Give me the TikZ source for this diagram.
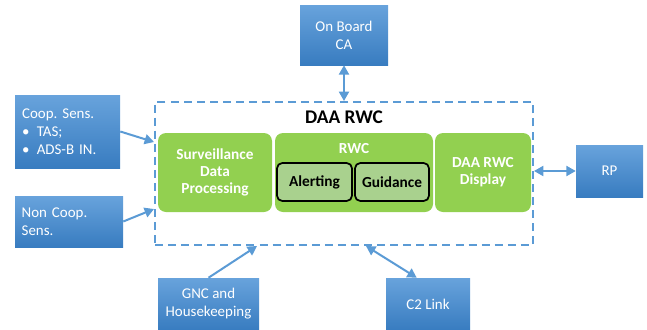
\documentclass[tikz,border=0pt]{standalone}
\usepackage{fontspec}
\setmainfont{Carlito}
\usetikzlibrary{arrows.meta,calc}

\definecolor{sensTop}{RGB}{104,163,220}
\definecolor{sensBot}{RGB}{56,124,192}
\definecolor{linkBlue}{RGB}{91,155,213}
\definecolor{funcGreen}{RGB}{146,208,80}
\definecolor{subGreen}{RGB}{169,209,142}

\begin{document}
\begin{tikzpicture}[x=0.75pt,y=-0.75pt,
  sensor/.style={
      draw=none,
      inner sep=0pt,
      top color=sensTop,
      bottom color=sensBot,
      text=white,
      align=center,
      font=\fontsize{11.2}{13.5}\selectfont
    },
  functext/.style={
      inner sep=0pt,
      text=white,
      align=center,
      font=\fontsize{11.5}{13}\selectfont\bfseries
    },
  func/.style={
      functext,
      fill=funcGreen,
      draw=none,
      rounded corners=6pt,
      minimum height=59.25pt
    },
  subfunc/.style={
      fill=subGreen,
      draw=black,
      line width=1.3pt,
      inner sep=0pt,
      rounded corners=4pt,
      minimum height=28.5pt,
      font=\fontsize{11.5}{13}\selectfont\bfseries
    },
  frame/.style={
      draw=linkBlue,
      line width=1.5pt,
      dash pattern=on 6pt off 3.8pt,
      inner sep=0pt
    },
  flow/.style={
      draw=linkBlue,
      line width=1.5pt,
      -{Triangle[length=7pt,width=7.5pt]}
    },
  both/.style={
      flow,
      {Triangle[length=7pt,width=7.5pt]}-{Triangle[length=7pt,width=7.5pt]}
    }]

  \useasboundingbox (0,0) rectangle (647,329);

  % the real-time component and its functions
  \node [frame, minimum width=283.5pt, minimum height=107.25pt] (daa) at (344,173.5) {};
  \node [font=\fontsize{14.5}{16}\selectfont\bfseries] (daa_label) at (344,117) {DAA RWC};

  \node [func, minimum width=85.5pt] (sdp) at (215,172.5) {Surveillance\\Data\\Processing};
  \node [func, minimum width=118.5pt] (rwc) at (354,172.5) {};
  \node [functext, anchor=base] (rwc_label) at ($(rwc.north)+(0,21)$) {RWC};
  \node [subfunc, minimum width=56.25pt] (alert) at (314.5,182) {Alerting};
  \node [subfunc, minimum width=55.5pt] (guide) at (392,182) {Guidance};
  \node [func, minimum width=72pt] (disp) at (483,172.5) {DAA RWC\\Display};

  % external sources and sinks
  \node [sensor, minimum width=78.75pt, minimum height=54.75pt, text width=68pt, align=left] (coop) at (67.5,131.5)
    {Coop.\ Sens.\\\makebox[11pt][l]{•}TAS;\\\makebox[11pt][l]{•}ADS-B IN.};
  \node [sensor, minimum width=81pt, minimum height=38.25pt, text width=71pt, align=left] (noncoop) at (69,221.5)
    {Non Coop.\\Sens.};
  \node [sensor, minimum width=66pt, minimum height=45pt] (onboard) at (344,35) {On Board\\CA};
  \node [sensor, minimum width=50.25pt, minimum height=39pt] (rp) at (609.5,171) {RP};
  \node [sensor, minimum width=75.75pt, minimum height=39pt] (gnc) at (208.5,304) {GNC and\\Housekeeping};
  \node [sensor, minimum width=63pt, minimum height=39pt] (ctwo) at (428,304) {C2 Link};

  % connections
  \draw [flow] (coop.east) -- ($(daa.north west)+(0,41)$);
  \draw [flow] (noncoop.east) -- ($(daa.south west)+(0,-37)$);
  \draw [flow] (gnc.north) -- ($(daa.south west)+(103,0)$);
  \draw [both] ($(ctwo.north west)+(31,0)$) -- ($(daa.south west)+(212,0)$);
  \draw [both] (onboard.south) -- (onboard.south |- daa.north);
  \draw [both] (rp.west -| daa.east) -- (rp.west);
\end{tikzpicture}
\end{document}
